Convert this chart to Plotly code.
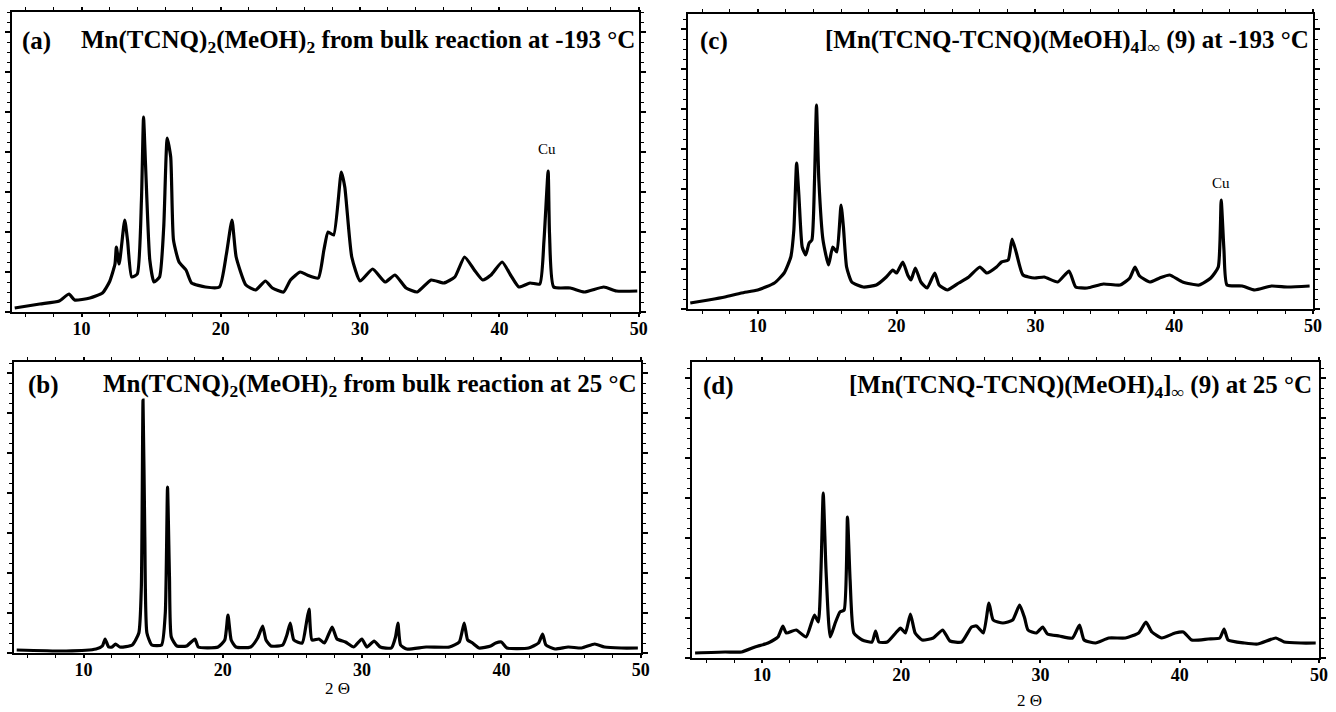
import plotly.graph_objects as go

W, H = 1336, 712

# ---------------- data (2-theta, intensity in arbitrary units) ----------------
a_x = [5.2, 7.0, 8.4, 9.1, 9.5, 10.6, 11.5, 12.0, 12.4, 12.5, 12.7, 13.1, 13.3, 13.6, 14.0,
       14.3, 14.45, 14.6, 14.9, 15.2, 15.6, 15.9, 16.15, 16.4, 16.6, 17.0, 17.5, 17.9, 18.9,
       19.9, 20.4, 20.8, 21.1, 21.8, 22.5, 23.2, 23.7, 24.5, 25.0, 25.7, 26.2, 27.0, 27.4,
       27.7, 28.1, 28.65, 28.9, 29.4, 30.0, 30.9, 31.8, 32.5, 33.3, 34.1, 35.1, 36.0, 36.8,
       37.5, 38.2, 38.8, 39.4, 40.2, 40.8, 41.4, 42.2, 42.9, 43.2, 43.5, 43.6, 43.9, 45.1,
       46.1, 47.5, 48.4, 49.9]
a_y = [4, 8, 11, 18, 12, 14, 19, 30, 48, 65, 48, 92, 72, 35, 38,
       112, 195, 145, 52, 30, 35, 85, 174, 155, 72, 50, 42, 29, 25,
       25, 58, 92, 55, 27, 22, 31, 24, 20, 32, 40, 37, 34, 62,
       80, 77, 140, 125, 55, 31, 43, 30, 37, 24, 20, 32, 29, 35,
       55, 42, 32, 37, 50, 37, 25, 29, 28, 71, 141, 78, 25, 24,
       20, 25, 21, 21]

b_x = [5.2, 8.75, 10.9, 11.35, 11.55, 11.8, 12.05, 12.3, 12.6, 13.5, 13.97, 14.15, 14.27,
       14.4, 14.55, 14.9, 15.6, 15.87, 16.03, 16.17, 16.3, 16.7, 17.4, 18.0, 18.24, 19.66,
       20.14, 20.37, 20.6, 20.94, 22.0, 22.5, 22.86, 23.1, 23.45, 24.3, 24.6, 24.84, 25.1,
       25.7, 26.0, 26.19, 26.4, 26.9, 27.3, 27.85, 28.2, 28.8, 29.4, 29.98, 30.34, 30.86,
       31.3, 32.1, 32.4, 32.57, 32.76, 33.2, 34.6, 36.27, 36.98, 37.33, 37.58, 37.93, 38.4,
       39.23, 39.6, 40.0, 40.4, 41.96, 42.67, 42.96, 43.2, 43.86, 44.8, 45.76, 46.7, 47.4,
       48.6, 49.8]
b_y = [3, 2, 4, 7, 14, 6, 6, 9, 6, 8, 20, 66, 253,
       116, 20, 8, 8, 40, 166, 76, 16, 7, 7, 14, 6, 6,
       13, 38, 13, 6, 6, 15, 27, 13, 7, 8, 18, 30, 13,
       10, 30, 44, 13, 14, 10, 26, 14, 11, 6, 14, 6, 12,
       6, 5, 16, 30, 8, 4, 6, 6, 11, 30, 13, 10, 5,
       7, 10, 11, 5, 5, 10, 19, 8, 4, 6, 5, 9, 6,
       5, 5]

c_x = [5.14, 6.45, 7.63, 8.82, 10.0, 11.2, 11.9, 12.38, 12.6, 12.8, 12.97, 13.2, 13.45,
       13.7, 13.9, 14.09, 14.23, 14.4, 14.7, 15.1, 15.4, 15.7, 16.0, 16.17, 16.4, 16.77,
       17.6, 18.54, 19.26, 19.73, 20.0, 20.45, 20.8, 21.04, 21.35, 21.75, 22.2, 22.75, 23.06,
       23.65, 24.48, 25.2, 26.0, 26.5, 27.2, 27.56, 28.04, 28.32, 28.63, 29.1, 29.93, 30.64,
       31.6, 32.42, 32.9, 33.73, 34.9, 36.1, 36.8, 37.17, 37.5, 38.24, 38.95, 39.66, 40.6,
       41.8, 42.63, 43.17, 43.38, 43.58, 43.8, 44.9, 45.8, 47.0, 48.2, 49.75]
c_y = [6, 9, 12, 16, 19, 26, 36, 52, 79, 146, 112, 62, 54,
       66, 69, 129, 204, 129, 69, 44, 62, 57, 104, 82, 42, 27,
       22, 24, 32, 39, 36, 47, 34, 29, 41, 27, 21, 36, 24,
       19, 26, 32, 42, 36, 42, 47, 49, 70, 56, 34, 31, 32,
       27, 38, 22, 21, 25, 24, 31, 42, 33, 27, 31, 34, 27,
       24, 31, 42, 109, 59, 24, 23, 19, 23, 22, 23]

d_x = [5.2, 7.35, 8.54, 9.5, 10.44, 11.15, 11.5, 11.75, 12.46, 13.17, 13.77, 14.05, 14.24,
       14.4, 14.6, 14.9, 15.26, 15.6, 15.9, 16.14, 16.33, 16.6, 17.2, 17.9, 18.16, 18.4,
       19.0, 19.6, 19.95, 20.3, 20.66, 21.0, 21.5, 22.3, 22.98, 23.5, 24.34, 25.05, 25.4,
       25.9, 26.3, 26.6, 27.3, 28.0, 28.5, 28.86, 29.1, 29.7, 30.16, 30.5, 31.35, 32.3,
       32.8, 33.13, 33.96, 34.9, 36.1, 37.05, 37.57, 38.0, 38.7, 39.66, 40.26, 40.85, 42.04,
       42.87, 43.18, 43.47, 44.65, 45.6, 46.9, 47.5, 48.7, 49.76]
d_y = [5, 6, 6, 11, 15, 21, 32, 25, 28, 21, 43, 36, 88,
       165, 88, 21, 35, 46, 48, 141, 78, 25, 18, 16, 27, 16,
       16, 25, 30, 25, 44, 25, 18, 20, 28, 17, 16, 31, 32,
       25, 55, 38, 35, 38, 53, 40, 28, 25, 31, 24, 22, 20,
       33, 18, 15, 20, 20, 25, 36, 26, 20, 25, 26, 18, 19,
       20, 29, 18, 15, 14, 20, 16, 15, 15]

x_ticks = [10, 20, 30, 40, 50]
x_tick_text = ["<b>10</b>", "<b>20</b>", "<b>30</b>", "<b>40</b>", "<b>50</b>"]
panel_letters = ["<b>(a)</b>", "<b>(b)</b>", "<b>(c)</b>", "<b>(d)</b>"]
panel_titles = [
    "<b>Mn(TCNQ)<sub>2</sub>(MeOH)<sub>2</sub> from bulk reaction at -193 °C</b>",
    "<b>Mn(TCNQ)<sub>2</sub>(MeOH)<sub>2</sub> from bulk reaction at 25 °C</b>",
    "<b>[Mn(TCNQ-TCNQ)(MeOH)<sub>4</sub>]<sub>∞</sub> (9) at -193 °C</b>",
    "<b>[Mn(TCNQ-TCNQ)(MeOH)<sub>4</sub>]<sub>∞</sub> (9) at 25 °C</b>",
]
x_title = "2 Θ"
cu_label = "Cu"
cu_a = (43.45, 163)
cu_c = (43.38, 126)

# ---------------- figure ----------------
def px(x):
    return x / W

def py(y):
    return 1 - y / H

SERIF = "Liberation Serif"

fig = go.Figure()
series = [(a_x, a_y, "x", "y"), (c_x, c_y, "x2", "y2"),
          (b_x, b_y, "x3", "y3"), (d_x, d_y, "x4", "y4")]
for xs, ys, xa, ya in series:
    fig.add_trace(go.Scatter(x=xs, y=ys, xaxis=xa, yaxis=ya, mode="lines",
                             line=dict(color="black", width=3.2, shape="spline",
                                       smoothing=0.5),
                             showlegend=False, hoverinfo="skip"))

# panel geometry in pixels: (left, right, top, bottom, yrange_max)
geo = {
    "1": (12, 643, 12, 312, 300),
    "2": (693, 1322, 14, 309, 295),
    "3": (14, 645, 362, 653, 291),
    "4": (697, 1328, 362, 658, 296),
}

layout = dict(width=W, height=H, margin=dict(l=0, r=0, t=0, b=0, pad=0),
              paper_bgcolor="white", plot_bgcolor="white", showlegend=False)

for k, (l, r, t, b, ymax) in geo.items():
    xn = "xaxis" if k == "1" else "xaxis" + k
    yn = "yaxis" if k == "1" else "yaxis" + k
    anchor_x = "y" if k == "1" else "y" + k
    anchor_y = "x" if k == "1" else "x" + k
    layout[xn] = dict(domain=[px(l), px(r)], range=[5, 50], anchor=anchor_x,
                      tickvals=x_ticks, ticktext=x_tick_text, ticks="outside", ticklen=3,
                      tickwidth=1.5, tickcolor="black", showline=True, linecolor="black",
                      linewidth=2, mirror="allticks", showgrid=False, zeroline=False,
                      tickfont=dict(family=SERIF, size=18, color="black"),
                      ticklabelstandoff=-4,
                      minor=dict(dtick=2, tick0=0, ticks="outside", ticklen=3,
                                 tickcolor="black", tickwidth=1, showgrid=False),
                      fixedrange=True)
    layout[yn] = dict(domain=[py(b), py(t)], range=[0, ymax], anchor=anchor_y,
                      dtick=40, tick0=0, ticks="outside", ticklen=5, tickwidth=1.5,
                      tickcolor="black", showline=True, linecolor="black", linewidth=2,
                      mirror="allticks", showgrid=False, zeroline=False,
                      showticklabels=False,
                      minor=dict(dtick=10, ticks="outside", ticklen=3,
                                 tickcolor="black", tickwidth=1, showgrid=False),
                      fixedrange=True)

fig.update_layout(**layout)

ann = []
title_font = dict(family=SERIF, size=25, color="black")
letter_pos = [(20, 41), (26, 385), (703, 41), (706, 386)]
title_pos = [(641, 41), (642, 385), (1320, 41), (1323, 386)]
for i in range(4):
    lx, ly = letter_pos[i]
    tx, ty = title_pos[i]
    ann.append(dict(x=px(lx), y=py(ly), xref="paper", yref="paper", text=panel_letters[i],
                    showarrow=False, xanchor="left", yanchor="middle", font=title_font))
    ann.append(dict(x=px(tx), y=py(ty), xref="paper", yref="paper", text=panel_titles[i],
                    showarrow=False, xanchor="right", yanchor="middle", font=title_font))

cu_font = dict(family=SERIF, size=15, color="black")
ann.append(dict(x=cu_a[0], y=cu_a[1], xref="x", yref="y", text=cu_label, showarrow=False,
                xanchor="center", yanchor="middle", font=cu_font))
ann.append(dict(x=cu_c[0], y=cu_c[1], xref="x2", yref="y2", text=cu_label, showarrow=False,
                xanchor="center", yanchor="middle", font=cu_font))

xt_font = dict(family=SERIF, size=17, color="black")
ann.append(dict(x=px(340), y=py(688), xref="paper", yref="paper", text=x_title,
                showarrow=False, xanchor="center", yanchor="middle", font=xt_font))
ann.append(dict(x=px(1036), y=py(700), xref="paper", yref="paper", text=x_title,
                showarrow=False, xanchor="center", yanchor="middle", font=xt_font))

fig.update_layout(annotations=ann)
fig.write_html("out.html", config={"displayModeBar": False},
               post_script="document.body.style.margin='0';document.body.style.overflow='hidden';")
